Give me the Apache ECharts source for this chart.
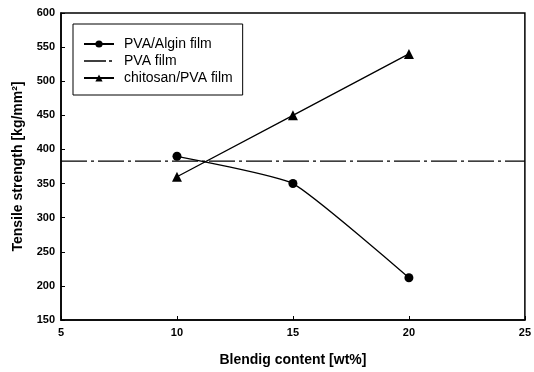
<!DOCTYPE html>
<html>
<head>
<meta charset="utf-8">
<script src="https://cdn.jsdelivr.net/npm/echarts@6/dist/echarts.min.js"></script>
<style>html,body{margin:0;padding:0;background:#fff}#c{width:534px;height:372px}</style>
</head>
<body>
<div id="c"></div>
<script>
const blendContent = [10, 15, 20];
const pvaAlgin = [390, 350, 212];
const chitosanPva = [360, 450, 540];
const pvaFilmLevel = 383;
const pvaFilmX = [5, 25];
const xTicks = {min: 5, max: 25, interval: 5};
const yTicks = {min: 150, max: 600, interval: 50};

const chart = echarts.init(document.getElementById('c'));
const font = 'Arial, "Liberation Sans", sans-serif';
const dashDotIcon = 'path://M0,0 M30,9 M0,3.8 L22,3.8 L22,5.2 L0,5.2 Z M25,3.8 L28,3.8 L28,5.2 L25,5.2 Z';
chart.setOption({
  animation: false,
  backgroundColor: '#fff',
  grid: {left: 61, right: 5, top: 13, bottom: 50, show: true, borderColor: '#000', borderWidth: 1.5, backgroundColor: 'transparent'},
  legend: {
    orient: 'vertical', left: 73, top: 24,
    borderColor: '#000', borderWidth: 1, padding: [13, 10, 10, 10],
    itemWidth: 30, itemHeight: 9, itemGap: 3,
    textStyle: {fontFamily: font, fontSize: 14, color: '#000', padding: [0, 0, 0, 5]},
    data: [
      {name: 'PVA/Algin film'},
      {name: 'PVA film', icon: dashDotIcon},
      {name: 'chitosan/PVA film'}
    ]
  },
  xAxis: {
    type: 'value', min: xTicks.min, max: xTicks.max, interval: xTicks.interval,
    name: 'Blendig content [wt%]', nameLocation: 'middle', nameGap: 33,
    nameTextStyle: {fontFamily: font, fontSize: 14, fontWeight: 'bold', color: '#000'},
    axisLine: {lineStyle: {color: '#000', width: 1.5}},
    axisTick: {inside: true, length: 4, lineStyle: {color: '#000'}},
    axisLabel: {fontFamily: font, fontSize: 11, fontWeight: 'bold', color: '#000', margin: 7},
    splitLine: {show: false}
  },
  yAxis: {
    type: 'value', min: yTicks.min, max: yTicks.max, interval: yTicks.interval,
    name: 'Tensile strength [kg/mm²]', nameLocation: 'middle', nameGap: 36,
    nameTextStyle: {fontFamily: font, fontSize: 14, fontWeight: 'bold', color: '#000'},
    axisLine: {lineStyle: {color: '#000', width: 1.5}},
    axisTick: {inside: true, length: 4, lineStyle: {color: '#000'}},
    axisLabel: {fontFamily: font, fontSize: 11, fontWeight: 'bold', color: '#000', margin: 6},
    splitLine: {show: false}
  },
  series: [
    {
      name: 'PVA/Algin film', type: 'line', smooth: 0.15,
      data: blendContent.map((x, i) => [x, pvaAlgin[i]]),
      symbol: 'circle', symbolSize: 9,
      itemStyle: {color: '#000'}, lineStyle: {color: '#000', width: 1.3}
    },
    {
      name: 'PVA film', type: 'line',
      data: pvaFilmX.map(x => [x, pvaFilmLevel]),
      symbol: 'none',
      itemStyle: {color: '#000'}, lineStyle: {color: '#000', width: 1.3, type: [26, 4, 3, 4]}
    },
    {
      name: 'chitosan/PVA film', type: 'line',
      data: blendContent.map((x, i) => [x, chitosanPva[i]]),
      symbol: 'triangle', symbolSize: 10,
      itemStyle: {color: '#000'}, lineStyle: {color: '#000', width: 1.3}
    }
  ]
});
</script>
</body>
</html>
